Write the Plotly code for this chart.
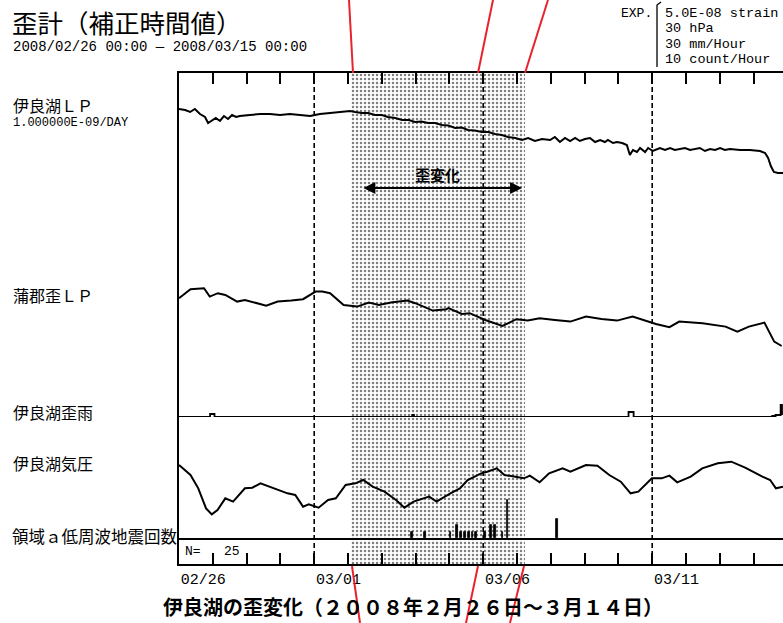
import plotly.graph_objects as go

# ---------------- data (x = days since 2008/02/26 00:00) ----------------
DAY_TICKS = list(range(18))
DAY_TEXT = ["02/26", "", "", "", "03/01", "", "", "", "", "03/06", "", "", "", "",
            "03/11", "", "", ""]
DASHED_DAYS = [4, 9, 14]
SHADE_PERIOD = [5.08, 10.25]

# 伊良湖LP (x1e-8 strain)
IRAGO_T = [0.00, 0.18, 0.33, 0.47, 0.62, 0.77, 0.86, 0.98, 1.09, 1.21, 1.33, 1.45, 1.57, 1.69,
           1.80, 2.10, 2.40, 2.69, 2.99, 3.28, 3.58, 3.88, 4.02, 4.17, 4.47, 4.76, 5.06, 5.21,
           5.41, 5.60, 5.80, 6.00, 6.18, 6.40, 6.60, 6.80, 6.98, 7.17, 7.37, 7.57, 7.78, 7.97,
           8.17, 8.36, 8.55, 8.75, 8.96, 9.15, 9.35, 9.55, 9.73, 9.95, 10.15, 10.33,
           10.53, 10.74, 10.98, 11.12, 11.27, 11.42, 11.57, 11.72, 11.86, 12.01, 12.16, 12.31,
           12.46, 12.60, 12.69, 12.84, 12.96, 13.11, 13.25, 13.34, 13.43, 13.55, 13.64, 13.79,
           13.88, 14.02, 14.23, 14.38, 14.53, 14.67, 14.82, 14.97, 15.12, 15.27, 15.41, 15.56,
           15.71, 15.86, 16.01, 16.15, 16.30, 16.60, 16.89, 17.19, 17.34, 17.43, 17.51, 17.60,
           17.72, 17.87]
IRAGO_V = [3.55, 3.50, 3.40, 3.55, 3.30, 3.15, 2.85, 3.00, 3.10, 2.95, 3.20, 3.05, 3.25, 3.15,
           3.20, 3.25, 3.30, 3.30, 3.25, 3.30, 3.25, 3.20, 3.25, 3.30, 3.35, 3.40, 3.45, 3.40,
           3.35, 3.35, 3.25, 3.25, 3.15, 3.10, 3.00, 3.00, 2.90, 2.92, 2.85, 2.85, 2.75, 2.72,
           2.60, 2.62, 2.50, 2.48, 2.40, 2.40, 2.30, 2.25, 2.15, 2.10, 2.00, 2.10,
           1.95, 2.05, 2.00, 2.15, 1.90, 2.10, 1.95, 2.10, 1.95, 2.05, 2.10, 1.90,
           2.00, 1.90, 2.00, 1.85, 1.90, 1.85, 1.75, 1.25, 1.50, 1.40, 1.60, 1.40,
           1.60, 1.45, 1.60, 1.50, 1.60, 1.50, 1.55, 1.60, 1.50, 1.55, 1.60, 1.45,
           1.55, 1.50, 1.60, 1.50, 1.55, 1.50, 1.50, 1.45, 1.35, 1.10, 0.70, 0.40,
           0.35, 0.35]

# 蒲郡歪LP (x1e-8 strain)
GAMA_T = [0.00, 0.34, 0.74, 0.91, 1.15, 1.37, 1.72, 1.95, 2.58, 2.92, 3.32, 3.67, 4.04, 4.24,
          4.47, 4.87, 5.27, 5.62, 5.91, 6.31, 6.76, 6.99, 7.51, 7.91, 7.97, 8.37, 8.60, 9.06,
          9.57, 9.98, 10.32, 10.67, 11.12, 11.58, 12.04, 12.50, 12.96, 13.42, 14.11, 14.51,
          14.80, 15.49, 16.17, 16.52, 16.86, 17.32, 17.61, 17.83]
GAMA_V = [4.34, 4.79, 4.84, 4.42, 4.59, 4.50, 4.17, 4.25, 3.97, 4.17, 4.22, 4.29, 4.67, 4.67,
          4.59, 4.00, 3.92, 4.12, 4.00, 4.14, 4.22, 4.09, 3.72, 3.79, 3.84, 3.55, 3.59, 3.25,
          2.95, 3.29, 3.22, 3.34, 3.25, 3.17, 3.42, 3.30, 3.22, 3.42, 3.05, 2.89,
          3.17, 3.09, 2.92, 2.67, 2.92, 3.12, 2.17, 1.95]

# 伊良湖歪雨 (mm/hour)
RAIN_T = [0.00, 0.92, 1.05, 6.90, 6.95, 13.30, 13.45, 17.55, 17.65, 17.80, 17.84]
RAIN_V = [0.0, 1.5, 0.0, 1.0, 0.0, 2.5, 0.0, 0.5, 1.0, 6.0, 1.0]

# 伊良湖気圧 (hPa)
PRES_T = [0.00, 0.34, 0.57, 0.80, 0.97, 1.14, 1.37, 1.60, 1.95, 2.17, 2.41, 2.81, 3.21, 3.44,
          3.67, 3.84, 4.13, 4.41, 4.64, 4.93, 5.22, 5.45, 5.73, 6.08, 6.42, 6.67, 6.94, 7.40,
          7.62, 8.03, 8.31, 8.54, 8.94, 9.12, 9.40, 9.63, 9.92, 10.21, 10.38, 10.67, 10.95,
          11.35, 11.58, 12.04, 12.38, 12.73, 13.07, 13.36, 13.59, 13.99, 14.28, 14.51, 14.74,
          15.14, 15.48, 15.94, 16.34, 16.75, 17.26, 17.49, 17.66, 17.87]
PRES_V = [1019.5, 1016.5, 1012.5, 1006.5, 1004.7, 1006.0, 1009.5, 1008.5, 1012.5, 1012.7,
          1014.0, 1012.5, 1011.0, 1010.5, 1007.0, 1007.7, 1006.7, 1009.0, 1009.5, 1013.5,
          1014.0, 1015.0, 1013.0, 1011.5, 1009.0, 1006.7, 1008.5, 1010.0, 1008.5, 1011.0,
          1012.5, 1015.0, 1017.0, 1017.5, 1018.5, 1016.5, 1016.0, 1015.5, 1016.3, 1014.3,
          1017.0, 1018.5, 1017.5, 1019.5, 1019.3, 1016.5, 1014.5, 1011.0, 1011.5, 1015.5,
          1015.5, 1016.3, 1014.3, 1016.0, 1018.5, 1020.0, 1020.5, 1018.7, 1016.0, 1015.0,
          1012.5, 1013.0]

# 領域a低周波地震回数 (count/hour)
EQ_T = [6.90, 7.28, 8.03, 8.23, 8.35, 8.46, 8.58, 8.69, 8.79, 9.06, 9.23, 9.35, 9.57, 9.72, 11.18]
EQ_N = [1, 1, 1, 2, 1, 1, 1, 1, 1, 1, 2, 2, 1, 6, 3]

# ---------------- geometry helpers ----------------
W, H = 783, 623
L, T, B = 179, 73, 59
PW, PH = W - L, H - T - B
XMAX = PW / 33.8


def fx(p):
    return (p - L) / PW


def fy(p):
    return (H - B - p) / PH


def dom(top, bottom):
    return [fy(bottom), fy(top)]


JP = "Noto Sans CJK JP"
MONO = "Liberation Mono"

fig = go.Figure()

# dotted shading of the strain-change period
fig.add_trace(go.Bar(
    x=[(SHADE_PERIOD[0] + SHADE_PERIOD[1]) / 2], y=[1], base=0,
    width=[SHADE_PERIOD[1] - SHADE_PERIOD[0]], xaxis="x", yaxis="y",
    marker=dict(color="white", line=dict(width=0),
                pattern=dict(shape=".", fgcolor="black", bgcolor="white",
                             size=4, solidity=0.3)),
    hoverinfo="skip", showlegend=False))

line = dict(color="black", width=2)
fig.add_trace(go.Scatter(x=IRAGO_T, y=IRAGO_V, mode="lines", line=line,
                         xaxis="x", yaxis="y2", showlegend=False))
fig.add_trace(go.Scatter(x=GAMA_T, y=GAMA_V, mode="lines", line=line,
                         xaxis="x", yaxis="y3", showlegend=False))
fig.add_trace(go.Scatter(x=RAIN_T, y=RAIN_V, mode="lines", line=dict(color="black", width=1.8, shape="hv"),
                         xaxis="x", yaxis="y4", showlegend=False))
fig.add_trace(go.Scatter(x=PRES_T, y=PRES_V, mode="lines", line=line,
                         xaxis="x", yaxis="y5", showlegend=False))
fig.add_trace(go.Bar(x=EQ_T, y=EQ_N, width=0.045, xaxis="x2", yaxis="y6",
                     marker=dict(color="black", line=dict(color="black", width=0.8)),
                     showlegend=False))

hidden = dict(visible=False, fixedrange=True)
fig.update_layout(
    width=W, height=H,
    margin=dict(l=L, r=0, t=T, b=B, autoexpand=False),
    paper_bgcolor="white", plot_bgcolor="rgba(0,0,0,0)",
    showlegend=False, bargap=0,
    xaxis=dict(range=[0, XMAX], domain=[0, 1], anchor="y", showline=True, linewidth=2,
               linecolor="black", mirror="ticks", ticks="inside", ticklen=11, tickwidth=1.5,
               tickcolor="black", tickvals=DAY_TICKS, ticktext=DAY_TEXT,
               ticklabelposition="outside right", showgrid=False, zeroline=False,
               tickfont=dict(family=MONO, size=15, color="black"), automargin=False,
               fixedrange=True),
    xaxis2=dict(range=[0, XMAX], matches="x", anchor="y6", showline=True, linewidth=1.8,
                linecolor="black", ticks="", showticklabels=False, showgrid=False,
                zeroline=False, fixedrange=True),
    yaxis=dict(range=[0, 1], domain=[0, 1], anchor="x", showline=True, linewidth=2,
               linecolor="black", ticks="", showticklabels=False, showgrid=False,
               zeroline=False, fixedrange=True),
    yaxis2=dict(range=[0, 5], domain=dom(80, 180), anchor="x", **hidden),
    yaxis3=dict(range=[0, 5], domain=dom(285, 385), anchor="x", **hidden),
    yaxis4=dict(range=[0, 30], domain=dom(357, 417), anchor="x", **hidden),
    yaxis5=dict(range=[1000, 1030], domain=dom(430, 530), anchor="x", **hidden),
    yaxis6=dict(range=[0, 10], domain=dom(475, 538), anchor="x2", **hidden),
)

shapes = []
for d in DASHED_DAYS:
    shapes.append(dict(type="line", xref="x", yref="paper", x0=d, x1=d, y0=0, y1=1,
                       line=dict(color="black", width=1.6, dash="5px,3px")))
# red guide lines
red = dict(color="#e8232d", width=2)
for (a, b, c, d) in [(349, 0, 353, 73), (493, 0, 478, 73), (548, 0, 525, 73),
                     (352, 566, 360, 623), (478, 566, 466, 623), (524, 566, 510, 623)]:
    shapes.append(dict(type="line", xref="paper", yref="paper", x0=fx(a), y0=fy(b),
                       x1=fx(c), y1=fy(d), line=red))
# EXP bracket
shapes.append(dict(type="path", xref="paper", yref="paper",
                   path=f"M {fx(657)} {fy(67)} L {fx(657)} {fy(5)} L {fx(661)} {fy(2)}",
                   line=dict(color="black", width=1.3)))
fig.update_layout(shapes=shapes)

ann = []


def text(s, x, y, size, family=JP, xanchor="left", bold=False):
    ann.append(dict(text=f"<b>{s}</b>" if bold else s, xref="paper", yref="paper",
                    x=fx(x), y=fy(y), xanchor=xanchor, yanchor="middle", showarrow=False,
                    font=dict(family=family, size=size, color="black")))


text("歪計（補正時間値）", 10, 21, 25.5)
text("2008/02/26 00:00 — 2008/03/15 00:00", 11, 47, 14, MONO)
text("EXP.", 619, 13, 13, MONO)
text("5.0E-08 strain", 663, 13, 13.5, MONO)
text("30 hPa", 663, 29, 13.5, MONO)
text("30 mm/Hour", 663, 44, 13.5, MONO)
text("10 count/Hour", 663, 59, 13.5, MONO)
text("伊良湖ＬＰ", 11, 105, 16)
text("1.000000E-09/DAY", 11, 123, 12, MONO)
text("蒲郡歪ＬＰ", 11, 295, 16)
text("伊良湖歪雨", 11, 412, 16)
text("伊良湖気圧", 11, 463, 16)
text("領域ａ低周波地震回数", 10, 536, 16.5)
text("N=", 183, 551, 13, MONO)
text("25", 222, 551, 13, MONO)
text("伊良湖の歪変化（２００８年２月２６日～３月１４日）", 413, 606, 20, xanchor="center", bold=True)
text("歪変化", 437, 174, 15, xanchor="center", bold=True)

# double-headed arrow for the strain-change period (y axis 'y' spans the whole plot, 0..1)
ann.append(dict(text="", xref="x", yref="y", axref="x", ayref="y",
                x=10.15, y=fy(188), ax=5.41, ay=fy(188), showarrow=True,
                arrowhead=2, startarrowhead=2, arrowside="end+start", arrowsize=1.2,
                arrowwidth=2, arrowcolor="black"))
fig.update_layout(annotations=ann)

fig.write_html("out.html", config={"displayModeBar": False},
               post_script="document.body.style.margin='0';"
                           "document.documentElement.style.overflow='hidden';")
